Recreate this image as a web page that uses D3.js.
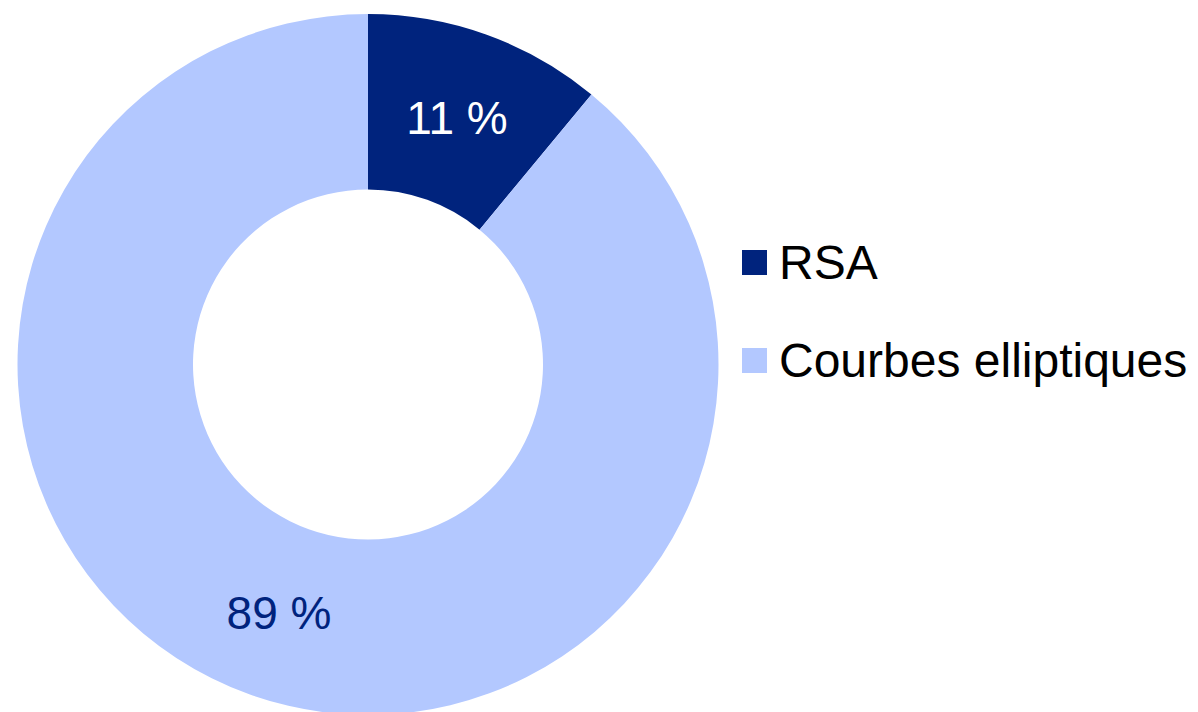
<!DOCTYPE html>
<html>
<head>
<meta charset="utf-8">
<script src="https://cdn.jsdelivr.net/npm/d3@7"></script>
<style>
  body { margin: 0; background: #fff; }
  svg { display: block; font-family: "Liberation Sans", Arial, sans-serif; }
</style>
</head>
<body>
<svg id="chart"></svg>
<script>
// data
var categories = ["RSA", "Courbes elliptiques"]
var values = [11, 89]
var labels = ["11 %", "89 %"]

var dimensions = {
    width: 1198,
    height: 712,
    cx: 368,
    cy: 364.5,
    outer: 350.5,
    inner: 175
}

var colors = d3.scaleOrdinal()
    .domain(categories)
    .range(["#00237d", "#b3c8ff"])
var labelColors = ["#ffffff", "#00237d"]

var svg = d3.select("#chart")
    .attr("width", dimensions.width)
    .attr("height", dimensions.height)

var pie = d3.pie().sort(null).value(d => d.value)
var arcs = pie(categories.map((c, i) => ({name: c, value: values[i], label: labels[i], i: i})))

var arc = d3.arc()
    .innerRadius(dimensions.inner)
    .outerRadius(dimensions.outer)

var g = svg.append("g")
    .attr("transform", "translate(" + dimensions.cx + "," + dimensions.cy + ")")

g.selectAll("path")
    .data(arcs)
    .enter()
    .append("path")
    .attr("d", arc)
    .attr("fill", d => colors(d.data.name))

g.selectAll("text")
    .data(arcs)
    .enter()
    .append("text")
    .attr("x", d => arc.centroid(d)[0])
    .attr("y", d => arc.centroid(d)[1])
    .attr("text-anchor", "middle")
    .attr("dy", "0.37em")
    .style("font-size", "46px")
    .attr("fill", d => labelColors[d.data.i])
    .text(d => d.data.label)

// legend
var legend = svg.append("g")
    .attr("transform", "translate(742,250)")

var item = legend.selectAll("g")
    .data(categories)
    .enter()
    .append("g")
    .attr("transform", (d, i) => "translate(0," + i * 98 + ")")

item.append("rect")
    .attr("width", 25)
    .attr("height", 25)
    .attr("fill", d => colors(d))

item.append("text")
    .attr("x", 37)
    .attr("y", 29)
    .style("font-size", "48px")
    .attr("fill", "#000")
    .text(d => d)
</script>
</body>
</html>
